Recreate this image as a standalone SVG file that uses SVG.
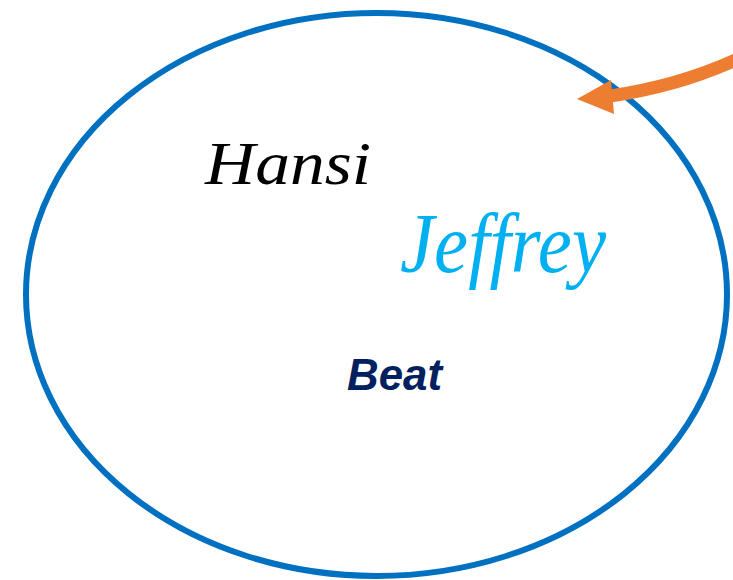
<svg xmlns="http://www.w3.org/2000/svg" width="733" height="580" viewBox="0 0 733 580">
<style>
.script{font-family:"Liberation Serif","DejaVu Serif",serif;font-style:italic;}
</style>
<rect width="733" height="580" fill="#ffffff"/>
<g id="circle">
<ellipse cx="376.5" cy="294.5" rx="350.5" ry="281.5" fill="none" stroke="#0070C0" stroke-width="6"/>
</g>
<g id="hansi"><text class="script" x="205" y="184" font-size="62" textLength="166" lengthAdjust="spacingAndGlyphs" fill="#000000">Hansi</text></g>
<g id="jeffrey"><text class="script" x="400" y="272" font-size="84" textLength="206" lengthAdjust="spacingAndGlyphs" fill="#00B0F0">Jeffrey</text></g>
<g id="beat"><text x="347" y="390" font-family="'Liberation Sans',Arial,sans-serif" font-weight="bold" font-style="italic" font-size="44" textLength="95" lengthAdjust="spacingAndGlyphs" fill="#002060">Beat</text></g>
<g id="connectors">
<path d="M 740,58 Q 680,86 610,96" fill="none" stroke="#ED7D31" stroke-width="13"/>
<polygon points="577,99 611,80 614,114" fill="#ED7D31"/>
</g>
</svg>
